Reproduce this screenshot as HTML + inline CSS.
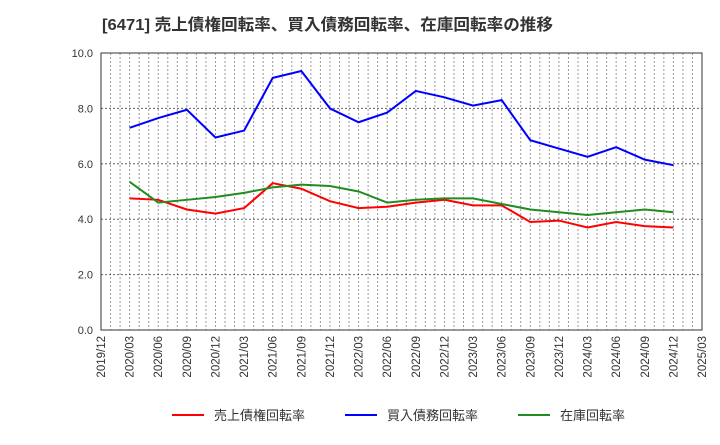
<!DOCTYPE html>
<html><head><meta charset="utf-8">
<style>
body{margin:0;background:#fff;width:720px;height:440px;overflow:hidden;font-family:"Liberation Sans","Noto Sans CJK JP",sans-serif;}
</style></head>
<body>
<svg id="chart" width="720" height="440" xmlns="http://www.w3.org/2000/svg" font-family="Liberation Sans, Noto Sans CJK JP, sans-serif">
<text x="102" y="30" font-size="16" font-weight="bold" fill="#333" textLength="451" lengthAdjust="spacingAndGlyphs">[6471]  売上債権回転率、買入債務回転率、在庫回転率の推移</text>
<g id="grid"></g>
<g id="axes"></g>
<g id="series"></g>
<g id="legend"></g>
</svg>
<script>
const xLabels=["2019/12","2020/03","2020/06","2020/09","2020/12","2021/03","2021/06","2021/09","2021/12","2022/03","2022/06","2022/09","2022/12","2023/03","2023/06","2023/09","2023/12","2024/03","2024/06","2024/09","2024/12","2025/03"];
const yTicks=[0,2,4,6,8,10];
const yTickLabels=["0.0","2.0","4.0","6.0","8.0","10.0"];
const seriesNames=["売上債権回転率","買入債務回転率","在庫回転率"];
const receivables=[4.75,4.7,4.35,4.2,4.4,5.3,5.1,4.65,4.4,4.45,4.6,4.7,4.5,4.5,3.9,3.95,3.7,3.9,3.75,3.7];
const payables=[7.3,7.65,7.95,6.95,7.2,9.1,9.35,8.0,7.5,7.85,8.63,8.4,8.1,8.3,6.85,6.55,6.25,6.6,6.15,5.95];
const inventory=[5.35,4.6,4.7,4.8,4.95,5.15,5.25,5.2,5.0,4.6,4.7,4.75,4.75,4.55,4.35,4.25,4.15,4.25,4.35,4.25];
const colors=["#ff0000","#0000ff","#228b22"];

const L=101,R=702,T=53,B=330,NS="http://www.w3.org/2000/svg";
const months=63;
const xm=m=>L+(R-L)*m/months;
const xq=i=>xm(i*3);
const y=v=>B-(B-T)*v/10;
function mk(tag,attrs,parent){const e=document.createElementNS(NS,tag);for(const k in attrs)e.setAttribute(k,attrs[k]);parent.appendChild(e);return e;}
const grid=document.getElementById('grid'),axes=document.getElementById('axes'),ser=document.getElementById('series'),leg=document.getElementById('legend');
for(let m=1;m<months;m++){
  const l=mk('line',{x1:xm(m),x2:xm(m),y1:T,y2:B,stroke:'#999','stroke-dasharray':'2,2','stroke-width':1},grid);
  
  
}
yTicks.forEach((v,i)=>{
  if(v>0&&v<10){const l=mk('line',{x1:L,x2:R,y1:y(v),y2:y(v),stroke:'#666','stroke-dasharray':'2,2','stroke-width':1},grid);
  
  }
  const t=mk('text',{x:L-8,y:y(v)+4,'text-anchor':'end','font-size':11,fill:'#333'},axes);t.textContent=yTickLabels[i];
  
  
});
const frame=mk('rect',{x:L,y:T,width:R-L,height:B-T,fill:'none',stroke:'#333','stroke-width':1},axes);


xLabels.forEach((s,i)=>{
  const t=mk('text',{transform:`translate(${xq(i)+4},${B+6}) rotate(-90)`,'text-anchor':'end','font-size':11.5,fill:'#333'},axes);t.textContent=s;
  
  
});
[receivables,payables,inventory].forEach((d,si)=>{
  const p=mk('polyline',{points:d.map((v,i)=>xq(i+1)+','+y(v)).join(' '),fill:'none',stroke:colors[si],'stroke-width':2},ser);
  
  
});
const lx=[172,345,518];
seriesNames.forEach((n,i)=>{
  const g=mk('g',{},leg);
  
  
  mk('line',{x1:lx[i],x2:lx[i]+32,y1:415,y2:415,stroke:colors[i],'stroke-width':2},g);
  const t=mk('text',{x:lx[i]+42,y:420,'font-size':13,fill:'#333'},g);t.textContent=n;
});
</script>
</body></html>
